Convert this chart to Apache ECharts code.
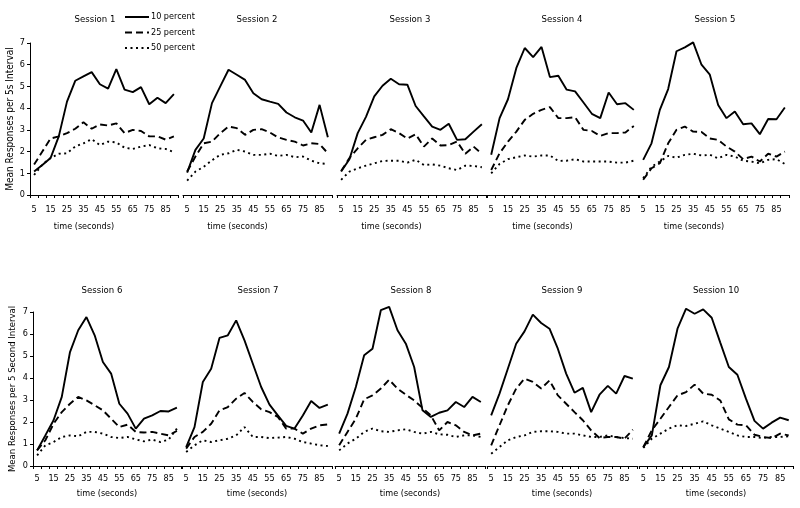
<!DOCTYPE html>
<html>
<head>
<meta charset="utf-8">
<script src="https://cdn.jsdelivr.net/npm/echarts@6/dist/echarts.min.js"></script>
<style>
html,body{margin:0;padding:0;background:#fff;}
#main{width:800px;height:508px;}
</style>
</head>
<body>
<div id="main"></div>
<script>
// ---- data ----
const categories = ['5','10','15','20','25','30','35','40','45','50','55','60','65','70','75','80','85','90'];
const sessionNames = ['Session 1','Session 2','Session 3','Session 4','Session 5','Session 6','Session 7','Session 8','Session 9','Session 10'];
const seriesNames = ['10 percent','25 percent','50 percent'];
const yTicks = [0,1,2,3,4,5,6,7];
const xTitle = 'time (seconds)';
const yTitleTop = 'Mean Responses per 5s Interval';
const yTitleBottom = 'Mean Responses per 5 Second Interval';

const s1_10 = [1.08,1.38,1.7,2.7,4.3,5.26,5.46,5.66,5.1,4.9,5.8,4.85,4.74,4.97,4.18,4.48,4.23,4.65];
const s1_25 = [1.4,2.0,2.6,2.7,2.85,3.05,3.35,3.05,3.25,3.2,3.3,2.85,3.0,2.95,2.7,2.7,2.55,2.7];
const s1_50 = [0.92,1.4,1.7,1.9,1.92,2.23,2.38,2.57,2.3,2.46,2.42,2.18,2.12,2.23,2.3,2.15,2.12,1.98];

const s2_10 = [1.03,2.08,2.6,4.23,5.0,5.77,5.54,5.3,4.69,4.41,4.3,4.2,3.8,3.58,3.43,2.88,4.15,2.66];
const s2_25 = [1.08,1.77,2.38,2.46,2.85,3.15,3.08,2.77,3.0,3.03,2.88,2.65,2.54,2.46,2.28,2.38,2.35,1.92];
const s2_50 = [0.66,1.08,1.3,1.6,1.85,1.92,2.08,2.0,1.85,1.85,1.9,1.8,1.85,1.74,1.77,1.58,1.46,1.43];

const s3_10 = [1.08,1.65,2.85,3.6,4.54,5.03,5.35,5.1,5.08,4.1,3.62,3.15,3.0,3.28,2.54,2.57,2.92,3.26];
const s3_25 = [1.1,1.7,2.15,2.54,2.66,2.77,3.03,2.85,2.6,2.8,2.23,2.6,2.28,2.3,2.46,1.9,2.23,1.9];
const s3_50 = [0.7,1.08,1.23,1.35,1.46,1.57,1.58,1.58,1.49,1.62,1.38,1.41,1.35,1.23,1.15,1.35,1.34,1.28];

const s4_10 = [1.85,3.54,4.41,5.85,6.77,6.35,6.82,5.43,5.49,4.85,4.77,4.26,3.74,3.54,4.72,4.18,4.23,3.92];
const s4_25 = [1.15,1.92,2.46,2.92,3.46,3.74,3.92,4.05,3.54,3.54,3.58,3.0,2.95,2.72,2.85,2.85,2.88,3.18];
const s4_50 = [1.0,1.43,1.65,1.74,1.82,1.77,1.82,1.82,1.57,1.58,1.65,1.54,1.54,1.54,1.54,1.49,1.49,1.58];

const s5_10 = [1.62,2.38,3.92,4.88,6.62,6.8,7.03,6.0,5.54,4.15,3.54,3.85,3.26,3.3,2.8,3.5,3.49,4.03];
const s5_25 = [0.7,1.23,1.46,2.38,3.0,3.15,2.92,2.9,2.6,2.54,2.23,2.0,1.65,1.77,1.54,1.9,1.77,2.0];
const s5_50 = [0.77,1.3,1.54,1.8,1.72,1.85,1.9,1.82,1.85,1.69,1.85,1.77,1.58,1.54,1.46,1.62,1.65,1.43];

const s6_10 = [0.71,1.39,2.08,3.14,5.18,6.17,6.77,5.94,4.73,4.2,2.83,2.38,1.7,2.15,2.3,2.5,2.48,2.65];
const s6_25 = [0.71,1.17,1.92,2.45,2.83,3.14,2.98,2.76,2.53,2.15,1.77,1.88,1.55,1.52,1.55,1.47,1.39,1.6];
const s6_50 = [0.48,0.94,1.09,1.32,1.39,1.35,1.55,1.55,1.47,1.32,1.27,1.32,1.21,1.12,1.2,1.09,1.2,1.7];

const s7_10 = [0.86,1.77,3.82,4.42,5.82,5.94,6.62,5.71,4.65,3.59,2.79,2.3,1.82,1.7,2.3,2.95,2.64,2.79];
const s7_25 = [0.79,1.32,1.55,1.92,2.53,2.68,3.06,3.32,2.91,2.58,2.45,2.23,1.7,1.7,1.47,1.7,1.85,1.89];
const s7_50 = [0.64,0.94,1.17,1.09,1.17,1.24,1.39,1.77,1.32,1.32,1.27,1.29,1.32,1.24,1.09,1.02,0.94,0.91];

const s8_10 = [1.47,2.38,3.59,5.03,5.33,7.08,7.23,6.17,5.56,4.5,2.53,2.23,2.42,2.53,2.91,2.68,3.14,2.91];
const s8_25 = [0.94,1.55,2.15,3.03,3.21,3.52,3.92,3.52,3.24,2.98,2.64,2.3,1.62,2.0,1.85,1.55,1.39,1.47];
const s8_50 = [0.71,1.02,1.24,1.55,1.7,1.58,1.55,1.62,1.67,1.55,1.47,1.55,1.44,1.42,1.32,1.39,1.39,1.32];

const s9_10 = [2.3,3.29,4.42,5.56,6.12,6.88,6.5,6.24,5.33,4.2,3.33,3.55,2.45,3.24,3.64,3.29,4.09,3.97];
const s9_25 = [0.94,1.85,2.76,3.52,3.97,3.82,3.52,3.89,3.21,2.83,2.45,2.08,1.62,1.27,1.32,1.32,1.24,1.65];
const s9_50 = [0.56,0.86,1.17,1.32,1.39,1.55,1.58,1.58,1.55,1.47,1.47,1.39,1.32,1.32,1.39,1.32,1.27,1.24];

const s10_10 = [0.86,1.39,3.67,4.5,6.24,7.15,6.92,7.12,6.74,5.61,4.5,4.15,3.06,2.05,1.7,1.97,2.2,2.08];
const s10_25 = [0.86,1.62,2.15,2.68,3.21,3.36,3.7,3.29,3.24,2.98,2.12,1.88,1.85,1.42,1.32,1.27,1.47,1.39];
const s10_50 = [0.82,1.24,1.47,1.7,1.85,1.82,1.92,2.03,1.85,1.7,1.55,1.39,1.32,1.32,1.27,1.32,1.32,1.35];

const sessionData = [
  [s1_10,s1_25,s1_50],[s2_10,s2_25,s2_50],[s3_10,s3_25,s3_50],[s4_10,s4_25,s4_50],[s5_10,s5_25,s5_50],
  [s6_10,s6_25,s6_50],[s7_10,s7_25,s7_50],[s8_10,s8_25,s8_50],[s9_10,s9_25,s9_50],[s10_10,s10_25,s10_50]
];

// ---- layout ----
const FONT = "'Liberation Sans Narrow','Arial Narrow','DejaVu Sans Condensed',sans-serif";
const panels = [
  {left:30, top:43, width:148, height:152},
  {left:183, top:43, width:149, height:152},
  {left:337, top:43, width:149, height:152},
  {left:487, top:43, width:151, height:152},
  {left:639, top:43, width:150, height:152},
  {left:33, top:312, width:148, height:154},
  {left:182, top:312, width:150, height:154},
  {left:335, top:312, width:150, height:154},
  {left:487, top:312, width:150, height:154},
  {left:639, top:312, width:154, height:154}
];
const titlePos = [[90,10],[252,10],[405,10],[557,10],[710,10],[97,281],[253,281],[406,281],[557,281],[711,281]];
const lineStyles = [
  {type:'solid', width:1.9},
  {type:[7,4], width:1.9},
  {type:[2,3.5], width:1.9}
];

const grid = [], xAxis = [], yAxis = [], series = [], title = [];
panels.forEach((p, i) => {
  const top = i < 5;
  grid.push({left:p.left, top:p.top, width:p.width, height:p.height});
  title.push({
    text: sessionNames[i], left: titlePos[i][0], top: titlePos[i][1], textAlign:'center',
    textStyle:{fontFamily:FONT, fontSize:9.5, fontWeight:'normal', color:'#000'}
  });
  xAxis.push({
    type:'category', gridIndex:i, data:categories, boundaryGap:true,
    axisLine:{show:true, lineStyle:{color:'#000', width:1}},
    axisTick:{show:true, interval:0, length:3, lineStyle:{color:'#000'}},
    axisLabel:{interval:1, fontFamily:FONT, fontSize:9, color:'#000', margin: top ? 10 : 8},
    splitLine:{show:false},
    name: xTitle, nameLocation:'middle', nameGap: top ? 27 : 23,
    nameTextStyle:{fontFamily:FONT, fontSize:9, color:'#000', padding: top ? [0,40,0,0] : [0,0,0,0]}
  });
  const showY = (i === 0 || i === 5);
  yAxis.push({
    type:'value', gridIndex:i, min:yTicks[0], max:yTicks[yTicks.length-1], interval:1,
    show: showY,
    axisLine:{show:true, lineStyle:{color:'#000', width:1}},
    axisTick:{show:true, length:3, lineStyle:{color:'#000'}},
    axisLabel:{fontFamily:FONT, fontSize:9, color:'#000', margin:5},
    splitLine:{show:false},
    name: showY ? (i === 0 ? yTitleTop : yTitleBottom) : '',
    nameLocation:'middle', nameGap:15,
    nameTextStyle:{fontFamily:FONT, fontSize: i === 0 ? 10 : 9.5, color:'#000'}
  });
  sessionData[i].forEach((vals, k) => {
    series.push({
      type:'line', name:seriesNames[k], xAxisIndex:i, yAxisIndex:i, data:vals,
      symbol:'none', clip:false, animation:false, silent:true,
      lineStyle:Object.assign({color:'#000'}, lineStyles[k]),
      itemStyle:{color:'#000'}
    });
  });
});

const chart = echarts.init(document.getElementById('main'), null, {renderer:'canvas'});
chart.setOption({
  backgroundColor:'#fff',
  animation:false,
  title: title,
  legend: {
    data: seriesNames, orient:'vertical', left:124, top:12.5, padding:0,
    itemWidth:24, itemHeight:10, itemGap:6.5,
    itemStyle:{color:'rgba(0,0,0,0)', borderColor:'rgba(0,0,0,0)', borderWidth:0},
    textStyle:{fontFamily:FONT, fontSize:9, color:'#000', padding:[0,0,0,-3]},
    selectedMode:false
  },
  grid: grid, xAxis: xAxis, yAxis: yAxis, series: series
});
</script>
</body>
</html>
